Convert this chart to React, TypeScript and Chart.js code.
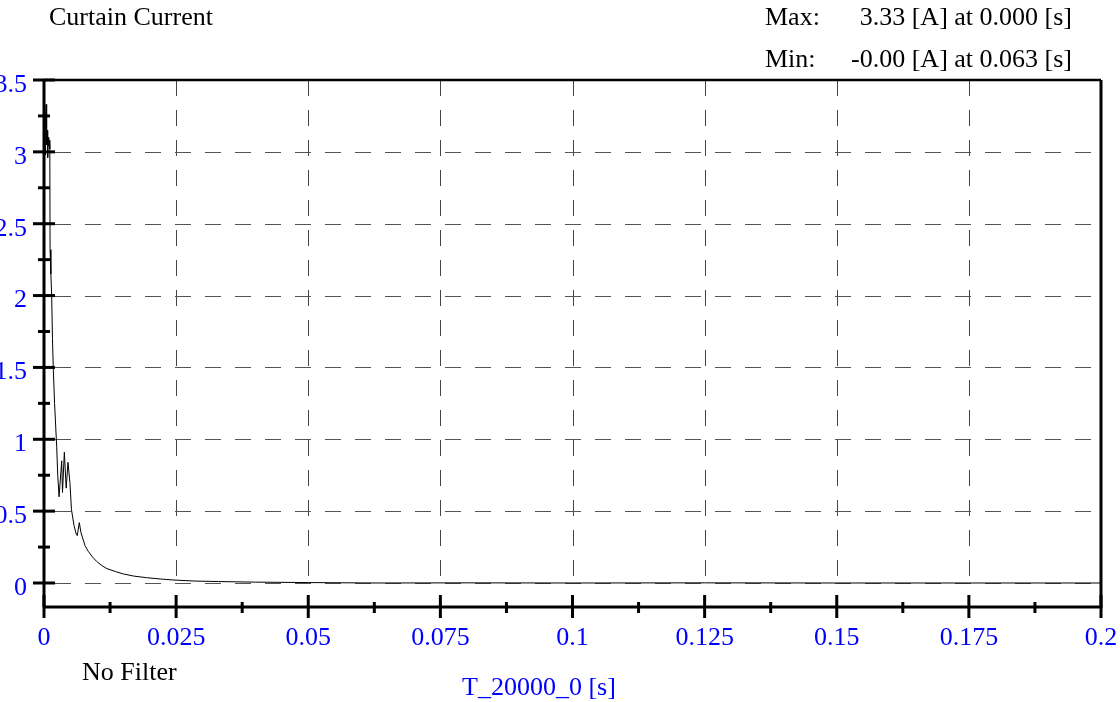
import React, { useEffect, useRef } from "react";
import { Chart, registerables } from "chart.js";

Chart.register(...registerables);

// ---- data ----
const timeS = [
  0.0, 0.0001, 0.0002, 0.0003, 0.0004, 0.0005, 0.0006, 0.0007, 0.0008, 0.0009,
  0.001, 0.0011, 0.00115, 0.0013, 0.00145, 0.0016, 0.00177, 0.002, 0.0022, 0.0024,
  0.0026, 0.00285, 0.00335, 0.0035, 0.00385, 0.0042, 0.00454, 0.0049, 0.0052, 0.00568,
  0.0061, 0.0063, 0.00668, 0.007, 0.00776, 0.00838, 0.0092, 0.00997, 0.011, 0.0119,
  0.0135, 0.015, 0.017, 0.0194, 0.022, 0.0244, 0.0282, 0.033, 0.04, 0.05,
  0.063, 0.08, 0.1, 0.125, 0.15, 0.175, 0.2,
];
const currentA = [
  2.9, 3.12, 2.98, 3.25, 3.33, 3.05, 3.15, 2.96, 3.1, 3.04,
  3.08, 3.02, 2.32, 2.15, 2.0, 1.7, 1.48, 1.25, 1.1, 0.95,
  0.75, 0.6, 0.85, 0.63, 0.91, 0.66, 0.84, 0.7, 0.51, 0.4,
  0.34, 0.33, 0.42, 0.35, 0.26, 0.22, 0.18, 0.15, 0.12, 0.1,
  0.08, 0.063, 0.048, 0.037, 0.028, 0.021, 0.014, 0.01, 0.006, 0.003,
  0.0, 0.001, 0.0, 0.001, 0.0, 0.0, 0.0,
];

const xTickValues = [0, 0.025, 0.05, 0.075, 0.1, 0.125, 0.15, 0.175, 0.2];
const xTickLabels = ["0", "0.025", "0.05", "0.075", "0.1", "0.125", "0.15", "0.175", "0.2"];
const xMinorValues = [0.0125, 0.0375, 0.0625, 0.0875, 0.1125, 0.1375, 0.1625, 0.1875];
const yTickValues = [0, 0.5, 1, 1.5, 2, 2.5, 3, 3.5];
const yTickLabels = ["0", "0.5", "1", "1.5", "2", "2.5", "3", "3.5"];
const yMinorValues = [0.25, 0.75, 1.25, 1.75, 2.25, 2.75, 3.25];

const titleText = "Curtain Current";
const maxLabel = "Max:";
const maxValue = "3.33 [A] at 0.000 [s]";
const minLabel = "Min:";
const minValue = "-0.00 [A] at 0.063 [s]";
const filterText = "No Filter";
const xAxisTitle = "T_20000_0 [s]";

const FONT = '"Liberation Serif", "Times New Roman", serif';
const BLUE = "#0000ff";

const framePlugin = {
  id: "frame",
  beforeDatasetsDraw(chart: any) {
    const { ctx, chartArea } = chart;
    const x = chart.scales.x;
    const y = chart.scales.y;
    const y0 = y.getPixelForValue(0);
    ctx.save();
    ctx.lineWidth = 1;
    ctx.setLineDash([16, 14]);
    ctx.strokeStyle = "#444";
    for (const v of xTickValues) {
      if (v <= x.min || v >= x.max) continue;
      const px = Math.round(x.getPixelForValue(v)) + 0.5;
      ctx.beginPath();
      ctx.moveTo(px, chartArea.top);
      ctx.lineTo(px, y0);
      ctx.stroke();
    }
    ctx.strokeStyle = "#555";
    for (const v of yTickValues) {
      if (v >= y.max) continue;
      const py = Math.round(y.getPixelForValue(v)) + 0.5;
      ctx.beginPath();
      ctx.moveTo(chartArea.left + 11, py);
      ctx.lineTo(chartArea.right, py);
      ctx.stroke();
    }
    ctx.restore();
  },
  afterDatasetsDraw(chart: any) {
    const { ctx, chartArea } = chart;
    const x = chart.scales.x;
    const y = chart.scales.y;
    const L = chartArea.left;
    const R = chartArea.right;
    const T = chartArea.top;
    const B = chartArea.bottom;
    ctx.save();
    ctx.strokeStyle = "#000";
    ctx.setLineDash([]);
    const line = (x1: number, y1: number, x2: number, y2: number, w: number) => {
      ctx.lineWidth = w;
      ctx.beginPath();
      ctx.moveTo(x1, y1);
      ctx.lineTo(x2, y2);
      ctx.stroke();
    };
    // frame
    line(L, T, R, T, 2.5);
    line(R, T, R, B, 3);
    line(L, T - 1, L, B, 3);
    line(L - 1, B, R + 1.5, B, 3);
    // y ticks
    for (const v of yTickValues) {
      const py = y.getPixelForValue(v);
      line(L - 11, py, L + 11, py, 3);
    }
    for (const v of yMinorValues) {
      const py = y.getPixelForValue(v);
      line(L - 6, py, L + 6, py, 3);
    }
    // x ticks
    for (const v of xTickValues) {
      const px = x.getPixelForValue(v);
      line(px, B - 12, px, B + 11, 3);
    }
    for (const v of xMinorValues) {
      const px = x.getPixelForValue(v);
      line(px, B - 5, px, B + 6, 3);
    }
    ctx.restore();
  },
  afterDraw(chart: any) {
    const { ctx } = chart;
    ctx.save();
    ctx.font = `26px ${FONT}`;
    ctx.textBaseline = "alphabetic";
    ctx.fillStyle = "#000";
    ctx.textAlign = "left";
    ctx.fillText(titleText, 49, 25);
    ctx.fillText(maxLabel, 765, 25);
    ctx.fillText(minLabel, 765, 67);
    ctx.fillText(filterText, 82, 680);
    ctx.textAlign = "right";
    ctx.fillText(maxValue, 1072, 25);
    ctx.fillText(minValue, 1072, 67);
    ctx.textAlign = "left";
    ctx.fillStyle = BLUE;
    ctx.fillText(xAxisTitle, 462, 695);
    ctx.restore();
  },
};

export default function App() {
  const canvasRef = useRef<HTMLCanvasElement | null>(null);

  useEffect(() => {
    document.body.style.margin = "0";
    const canvas = canvasRef.current;
    if (!canvas) return;
    const points = timeS.map((t, i) => ({ x: t, y: currentA[i] }));
    const chart = new Chart(canvas, {
      type: "line",
      data: {
        datasets: [
          {
            data: points,
            borderColor: "#000",
            borderWidth: 1,
            pointRadius: 0,
            tension: 0,
            fill: false,
          },
        ],
      },
      options: {
        animation: false,
        responsive: false,
        devicePixelRatio: 1,
        layout: { padding: { top: 80, right: 19, left: 0, bottom: 0 } },
        plugins: {
          legend: { display: false },
          tooltip: { enabled: false },
          title: { display: false },
        },
        scales: {
          x: {
            type: "linear",
            min: 0,
            max: 0.2,
            grid: { display: false, drawTicks: false },
            border: { display: false },
            afterBuildTicks: (scale: any) => {
              scale.ticks = xTickValues.map((v) => ({ value: v }));
            },
            afterFit: (scale: any) => {
              scale.height = 95;
              scale.paddingLeft = 0;
              scale.paddingRight = 0;
            },
            ticks: {
              autoSkip: false,
              maxRotation: 0,
              padding: 16,
              color: BLUE,
              font: { family: FONT, size: 26 },
              callback: (value: any) => {
                const i = xTickValues.findIndex((v) => Math.abs(v - value) < 1e-9);
                return i >= 0 ? xTickLabels[i] : "";
              },
            },
          },
          y: {
            type: "linear",
            min: -0.167,
            max: 3.5,
            grid: { display: false, drawTicks: false },
            border: { display: false },
            afterBuildTicks: (scale: any) => {
              scale.ticks = yTickValues.map((v) => ({ value: v }));
            },
            afterFit: (scale: any) => {
              scale.width = 44;
              scale.paddingTop = 0;
              scale.paddingBottom = 0;
            },
            ticks: {
              autoSkip: false,
              padding: 17,
              labelOffset: 5,
              color: BLUE,
              font: { family: FONT, size: 26 },
              callback: (value: any) => {
                const i = yTickValues.findIndex((v) => Math.abs(v - value) < 1e-9);
                return i >= 0 ? yTickLabels[i] : "";
              },
            },
          },
        },
      },
      plugins: [framePlugin],
    } as any);
    return () => chart.destroy();
  }, []);

  return (
    <div style={{ position: "absolute", left: 0, top: 0, width: 1120, height: 702 }}>
      <canvas ref={canvasRef} width={1120} height={702} style={{ display: "block" }} />
    </div>
  );
}
